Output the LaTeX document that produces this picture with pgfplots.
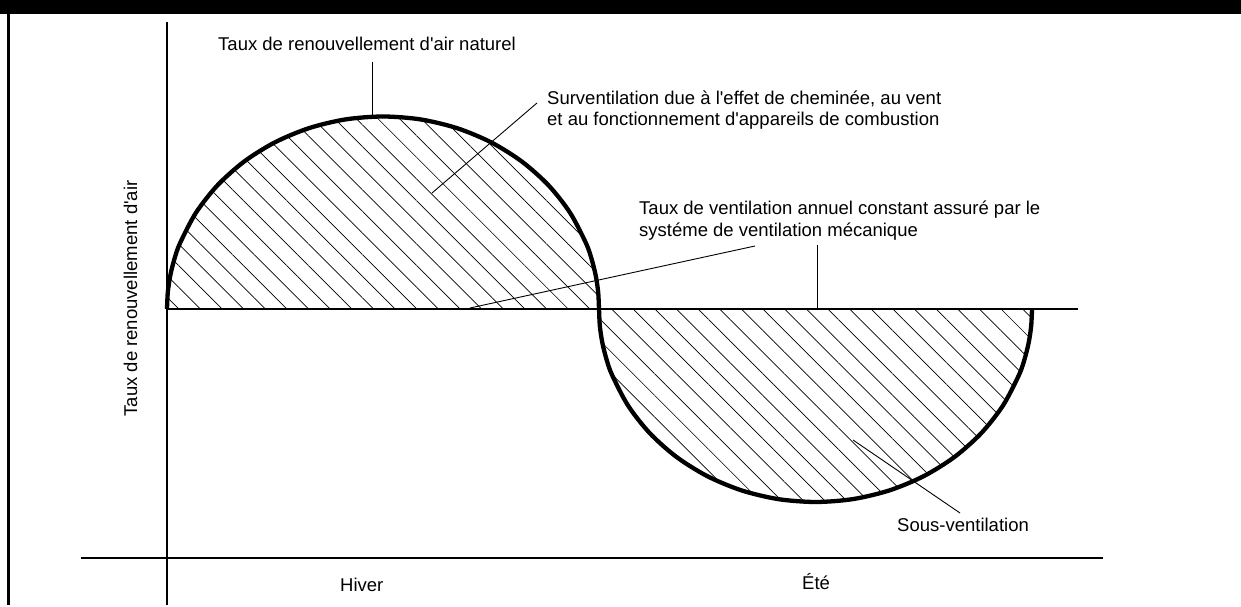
\documentclass[border=0pt]{standalone}
\usepackage{pgfplots}
\pgfplotsset{compat=1.18}
\usepackage{fontspec}
\setmainfont{Liberation Sans}
\usetikzlibrary{patterns.meta}
\newcommand{\q}{\textquotesingle}
\begin{document}
\fontsize{18.5bp}{22bp}\selectfont
\begin{tikzpicture}
\begin{axis}[
  width=1241bp, height=605bp, scale only axis,
  xmin=0, xmax=1241, ymin=0, ymax=605,
  hide axis, clip=false,
]
% header and border
\fill[black] (axis cs:0,591) rectangle (axis cs:1241,605);
\draw[line width=2.5bp] (axis cs:8.7,0) -- (axis cs:8.7,591);
% axes
\draw[line width=1.2bp] (axis cs:167,0) -- (axis cs:167,583);
\draw[line width=1.2bp] (axis cs:81,47) -- (axis cs:1103,47);
% hatched areas
\addplot[draw=none, pattern={Lines[angle=-45,distance=15.3bp,line width=0.7bp]}, smooth] coordinates {
(167,296) (167.82,312.78) (170.28,329.43) (174.36,345.82) (180.03,361.84) (195.94,392.25) (217.54,419.74) (244.16,443.46) (275,462.71) (309.12,476.89) (345.49,485.58) (383,488.5) (420.51,485.58) (456.88,476.89) (491,462.71) (521.84,443.46) (548.46,419.74) (570.06,392.25) (585.97,361.84) (591.64,345.82) (595.72,329.43) (598.18,312.78) (599,296)
};
\addplot[draw=none, pattern={Lines[angle=-45,distance=15.3bp,line width=0.7bp]}, smooth] coordinates {
(599,296) (599.82,279.18) (602.29,262.49) (606.38,246.05) (612.06,229.99) (628.00,199.5) (649.65,171.94) (676.34,148.15) (707.25,128.86) (741.45,114.64) (777.90,105.93) (815.5,103) (853.10,105.93) (889.55,114.64) (923.75,128.86) (954.66,148.15) (981.35,171.94) (1003.00,199.5) (1018.94,229.99) (1024.62,246.05) (1028.71,262.49) (1031.18,279.18) (1032,296)
};
% constant ventilation line
\addplot[black, line width=2.8bp] coordinates {(167,296) (1078,296)};
% natural curve
\addplot[black, line width=4.3bp, smooth] coordinates {
(167,296) (167.82,312.78) (170.28,329.43) (174.36,345.82) (180.03,361.84) (195.94,392.25) (217.54,419.74) (244.16,443.46) (275,462.71) (309.12,476.89) (345.49,485.58) (383,488.5) (420.51,485.58) (456.88,476.89) (491,462.71) (521.84,443.46) (548.46,419.74) (570.06,392.25) (585.97,361.84) (591.64,345.82) (595.72,329.43) (598.18,312.78) (599,296)
(599.82,279.18) (602.29,262.49) (606.38,246.05) (612.06,229.99) (628.00,199.5) (649.65,171.94) (676.34,148.15) (707.25,128.86) (741.45,114.64) (777.90,105.93) (815.5,103) (853.10,105.93) (889.55,114.64) (923.75,128.86) (954.66,148.15) (981.35,171.94) (1003.00,199.5) (1018.94,229.99) (1024.62,246.05) (1028.71,262.49) (1031.18,279.18) (1032,296)
};
% leader lines
\draw[line width=0.9bp] (axis cs:372.5,543) -- (axis cs:372.5,489);
\draw[line width=0.9bp] (axis cs:537,502) -- (axis cs:432,412);
\draw[line width=0.9bp] (axis cs:755,359) -- (axis cs:470,297);
\draw[line width=0.9bp] (axis cs:817,360) -- (axis cs:817,296);
\draw[line width=0.9bp] (axis cs:960,92) -- (axis cs:853,165);
% texts
\node[anchor=base west, inner sep=0] at (axis cs:218,554) {Taux de renouvellement d\q air naturel};
\node[anchor=base west, inner sep=0] at (axis cs:547,500.7) {Surventilation due à l\q effet de cheminée, au vent};
\node[anchor=base west, inner sep=0] at (axis cs:547,479) {et au fonctionnement d\q appareils de combustion};
\node[anchor=base west, inner sep=0] at (axis cs:639,390) {Taux de ventilation annuel constant assuré par le};
\node[anchor=base west, inner sep=0] at (axis cs:639,368) {systéme de ventilation mécanique};
\node[anchor=base west, inner sep=0] at (axis cs:897,73.3) {Sous-ventilation};
\node[anchor=base west, inner sep=0] at (axis cs:340,14) {Hiver};
\node[anchor=base west, inner sep=0] at (axis cs:802,16) {Été};
\node[anchor=base, rotate=90, inner sep=0] at (axis cs:137,306.5) {Taux de renouvellement d\q air};
\end{axis}
\end{tikzpicture}
\end{document}
